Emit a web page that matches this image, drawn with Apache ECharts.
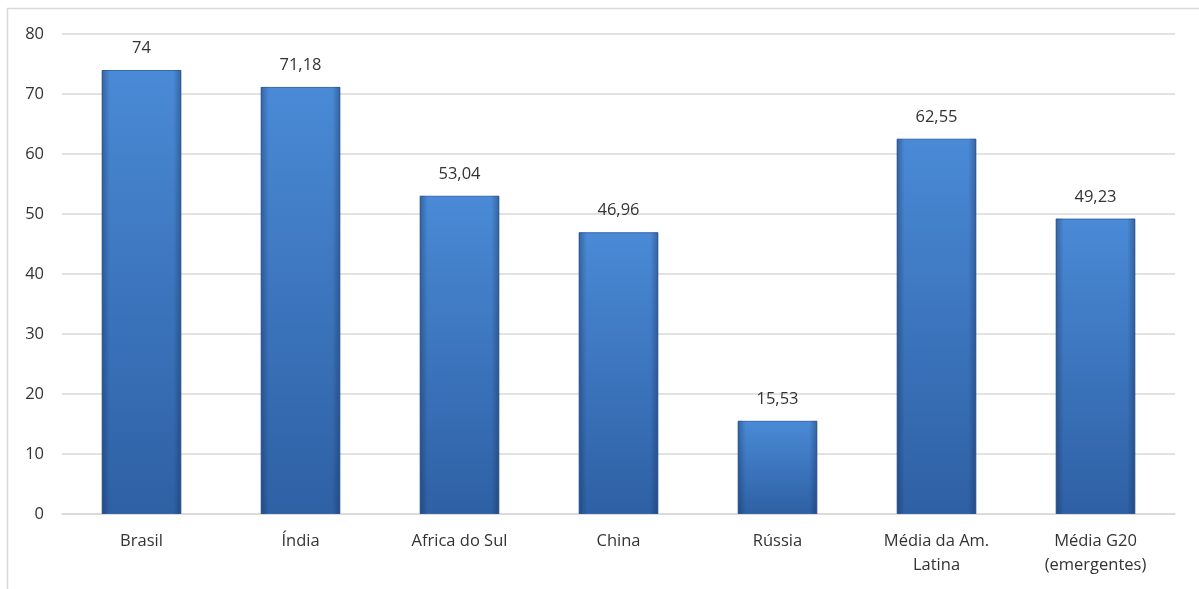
<!DOCTYPE html>
<html>
<head>
<meta charset="utf-8">
<script src="https://cdn.jsdelivr.net/npm/echarts@6/dist/echarts.min.js"></script>
<style>html,body{margin:0;padding:0;background:#fff;}#c{width:1199px;height:589px;}</style>
</head>
<body>
<div id="c"></div>
<script>
const categories = ['Brasil', 'Índia', 'Africa do Sul', 'China', 'Rússia', 'Média da Am.\nLatina', 'Média G20\n(emergentes)'];
const values = [74, 71.18, 53.04, 46.96, 15.53, 62.55, 49.23];
const yTicks = { min: 0, max: 80, interval: 10 };

const chart = echarts.init(document.getElementById('c'));
const font = '"Open Sans", "Noto Sans", sans-serif';
chart.setOption({
  animation: false,
  backgroundColor: '#fff',
  graphic: [{
    type: 'rect', shape: { x: 7.5, y: 8.5, width: 1300, height: 700 },
    style: { fill: 'none', stroke: '#d9d9d9', lineWidth: 1.5 }, silent: true
  }],
  grid: { left: 62, right: 24, top: 34, bottom: 75 },
  xAxis: {
    type: 'category', data: categories,
    axisLine: { show: true, lineStyle: { color: '#d9d9d9', width: 1.5 } },
    axisTick: { show: false },
    axisLabel: { color: '#333', fontSize: 16.5, fontFamily: font, margin: 15, lineHeight: 24, interval: 0 }
  },
  yAxis: {
    type: 'value', min: yTicks.min, max: yTicks.max, interval: yTicks.interval,
    axisLine: { show: false }, axisTick: { show: false },
    splitLine: { lineStyle: { color: '#d9d9d9', width: 1.5 } },
    axisLabel: { color: '#333', fontSize: 16.5, fontFamily: font, margin: 18 }
  },
  series: [{
    type: 'bar', data: values, barWidth: '50%',
    itemStyle: {
      color: new echarts.graphic.LinearGradient(0, 0, 0, 1, [
        { offset: 0, color: '#4a8ad6' },
        { offset: 1, color: '#2e60a4' }
      ]),
      borderColor: '#3768ab', borderWidth: 1
    },
    label: {
      show: true, position: 'top', distance: 13,
      color: '#333', fontSize: 16.5, fontFamily: font,
      formatter: p => String(p.value).replace('.', ',')
    }
  }, {
    type: 'bar', data: values, barWidth: '50%', barGap: '-100%', silent: true,
    itemStyle: {
      color: new echarts.graphic.LinearGradient(0, 0, 1, 0, [
        { offset: 0, color: 'rgba(10,30,70,0.35)' },
        { offset: 0.1, color: 'rgba(10,30,70,0)' },
        { offset: 0.9, color: 'rgba(10,30,70,0)' },
        { offset: 1, color: 'rgba(10,30,70,0.35)' }
      ])
    },
    label: { show: false }
  }]
});
</script>
</body>
</html>
